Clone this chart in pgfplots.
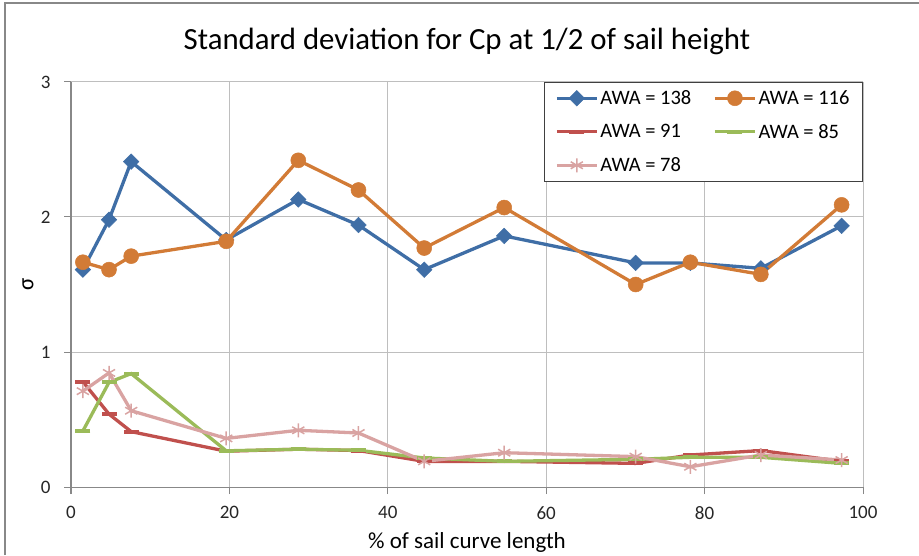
\documentclass[border=0pt]{standalone}
\usepackage{pgfplots}
\pgfplotsset{compat=1.18}
\usepackage{fontspec}
\setmainfont{Carlito}
\definecolor{cblue}{HTML}{3F6EA6}
\definecolor{corange}{HTML}{D27B36}
\definecolor{cred}{HTML}{C0504D}
\definecolor{cgreen}{HTML}{9BBB59}
\definecolor{cpink}{HTML}{D9A3A2}
\definecolor{cgrid}{HTML}{BEBEBE}
\definecolor{caxis}{HTML}{888888}
\begin{document}
\begin{tikzpicture}[x=1pt,y=1pt]
\useasboundingbox (0,0) rectangle (919,555);
\draw[caxis, line width=1.5pt] (5,0) -- (5,552) -- (919,552);
\begin{axis}[
  at={(71pt,68pt)}, anchor=south west, scale only axis,
  width=792pt, height=405pt,
  xmin=0, xmax=100, ymin=0, ymax=3,
  xtick={0,20,...,100}, ytick={0,1,2,3},
  axis lines=left, axis line style={-, caxis, line width=1pt},
  grid=major, grid style={cgrid, line width=1pt},
  tick align=outside, major tick length=7pt, tick style={caxis, line width=1pt},
  ticklabel style={font=\fontsize{19}{22}\selectfont, text=black!85},
  xticklabel style={yshift=-9pt},
  yticklabel style={xshift=-10pt},
  /pgf/number format/assume math mode=true,
  title={Standard deviation for Cp at 1/2 of sail height},
  title style={font=\fontsize{30.8}{36}\selectfont, at={(axis description cs:0.5,1.0864)}, anchor=center},
  xlabel={\% of sail curve length},
  xlabel style={font=\fontsize{23}{27}\selectfont, at={(axis description cs:0.5,-0.136)}, anchor=center},
  ylabel={σ},
  ylabel style={font=\fontsize{23}{27}\selectfont, at={(axis description cs:-0.0543,0.5)}, anchor=center},
  legend style={at={(1,1)}, anchor=north east, draw=black!75, line width=1pt,
    font=\fontsize{20.5}{24}\selectfont, inner xsep=11pt, inner ysep=6pt, row sep=14pt,
    nodes={inner xsep=2pt},
    /tikz/every even column/.append style={column sep=20pt}},
  legend columns=2, legend cell align=left,
  legend image code/.code={\draw[mark repeat=2,mark phase=2,#1] plot coordinates {(0pt,0pt) (20pt,0pt) (40pt,0pt)};},
]
\addplot[cblue, line width=3.3pt, mark=square*, mark size=5.5pt, mark options={solid, rotate=45, line width=0.5pt}] coordinates {
(1.5,1.61) (4.8,1.98) (7.6,2.41) (19.6,1.83) (28.7,2.13) (36.3,1.94) (44.6,1.61) (54.7,1.86) (71.3,1.66) (78.2,1.66) (87.1,1.62) (97.3,1.935)};
\addlegendentry{AWA = 138}
\addplot[corange, line width=3.3pt, mark=*, mark size=7.5pt, mark options={solid, line width=0.5pt}] coordinates {
(1.5,1.665) (4.8,1.61) (7.6,1.71) (19.6,1.82) (28.7,2.42) (36.3,2.20) (44.6,1.77) (54.7,2.07) (71.3,1.50) (78.2,1.665) (87.1,1.575) (97.3,2.09)};
\addlegendentry{AWA = 116}
\addplot[cred, line width=3.3pt, mark=-, mark size=7.5pt, mark options={solid, line width=4pt}] coordinates {
(1.5,0.78) (4.8,0.54) (7.6,0.41) (19.6,0.265) (28.7,0.28) (36.3,0.27) (44.6,0.19) (54.7,0.19) (71.3,0.175) (78.2,0.237) (87.1,0.27) (97.3,0.19)};
\addlegendentry{AWA = 91}
\addplot[cgreen, line width=3.3pt, mark=-, mark size=7.5pt, mark options={solid, line width=4pt}] coordinates {
(1.5,0.415) (4.8,0.775) (7.6,0.84) (19.6,0.268) (28.7,0.28) (36.3,0.272) (44.6,0.215) (54.7,0.19) (71.3,0.205) (78.2,0.22) (87.1,0.22) (97.3,0.175)};
\addlegendentry{AWA = 85}
\addplot[cpink, line width=3.3pt, mark=asterisk, mark size=7pt, mark options={solid, line width=1.5pt}] coordinates {
(1.5,0.71) (4.8,0.845) (7.6,0.565) (19.6,0.36) (28.7,0.42) (36.3,0.40) (44.6,0.19) (54.7,0.254) (71.3,0.225) (78.2,0.15) (87.1,0.237) (97.3,0.2)};
\addlegendentry{AWA = 78}
\end{axis}
\end{tikzpicture}
\end{document}
